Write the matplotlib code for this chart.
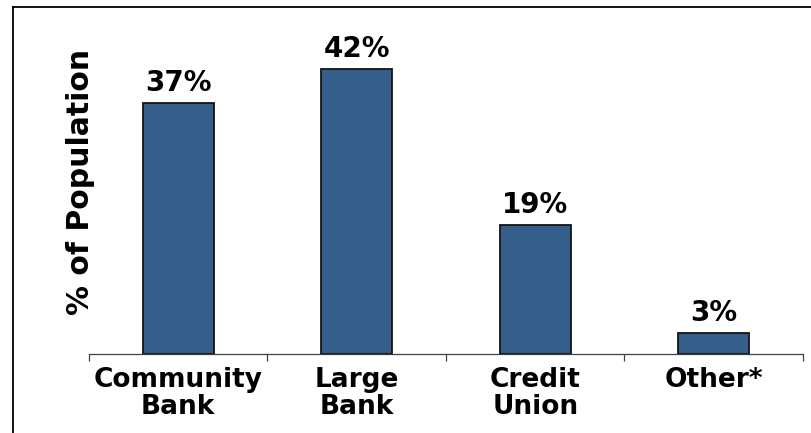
import matplotlib
matplotlib.use("Agg")
import matplotlib.pyplot as plt
from matplotlib.lines import Line2D
import numpy as np

categories = ["Community\nBank", "Large\nBank", "Credit\nUnion", "Other*"]
values = [37, 42, 19, 3]
value_labels = ["37%", "42%", "19%", "3%"]

plt.rcParams['font.family'] = ['DejaVu Sans']

W, H = 812, 433
fig = plt.figure(figsize=(W / 100, H / 100), dpi=100)
fig.patch.set_facecolor("white")

# axes in pixel coords
ax_l, ax_r, ax_b, ax_t = 89, 803, 353.5, 22
ax = fig.add_axes([ax_l / W, 1 - ax_b / H, (ax_r - ax_l) / W, (ax_b - ax_t) / H])

x = np.arange(len(categories))
ax.bar(x, values, width=0.4, color="#355E8B", edgecolor="#151515", linewidth=1.3, zorder=3)

ax.set_xlim(-0.5, len(categories) - 0.5)
ax.set_ylim(0, 49)

for xi, v, lab in zip(x, values, value_labels):
    ax.annotate(lab, (xi, v), xytext=(0, 4.5), textcoords="offset points",
                ha="center", va="bottom", fontsize=20, fontweight="bold", color="black")

for s in ["top", "right", "left"]:
    ax.spines[s].set_visible(False)
ax.spines["bottom"].set_color("#404040")
ax.spines["bottom"].set_linewidth(0.9)

ax.set_yticks([])
ax.set_xticks(x)
ax.set_xticklabels(categories, fontsize=19, fontweight="bold", linespacing=1.02)
ax.tick_params(axis="x", which="major", length=0, pad=10)
ax.set_xticks(np.arange(-0.5, len(categories)), minor=True)
ax.tick_params(axis="x", which="minor", length=5, width=0.9, color="#404040", direction="out")

fig.text(81 / W, 1 - 182 / H, "% of Population", rotation=90, ha="center", va="center",
         fontsize=21.5, fontweight="bold")

# figure frame (left and top lines)
fig.add_artist(Line2D([13 / W, 13 / W], [0, 1 - 7 / H], transform=fig.transFigure,
                      color="black", linewidth=1.3))
fig.add_artist(Line2D([13 / W, 1], [1 - 7 / H, 1 - 7 / H], transform=fig.transFigure,
                      color="black", linewidth=1.3))

fig.savefig("out.png", dpi=100)
